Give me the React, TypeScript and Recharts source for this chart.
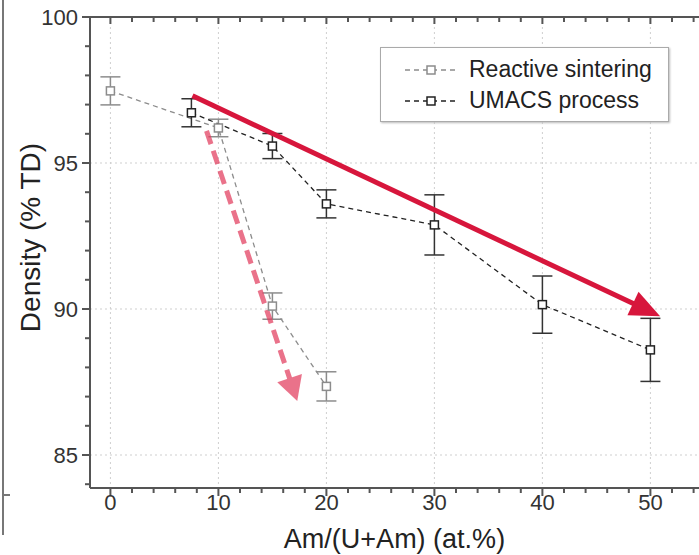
import { CartesianGrid, ErrorBar, Label, Legend, Line, LineChart, ReferenceLine, XAxis, YAxis } from 'recharts';

// Reactive sintering (grey)
const reactiveX = [0, 10, 15, 20];
const reactiveDensity = [97.47, 96.2, 90.1, 87.35];
const reactiveError = [0.48, 0.3, 0.45, 0.5];

// UMACS process (black)
const umacsX = [7.5, 15, 20, 30, 40, 50];
const umacsDensity = [96.72, 95.58, 93.6, 92.88, 90.15, 88.6];
const umacsError = [0.48, 0.43, 0.48, 1.03, 0.98, 1.08];

const xMajor = [0, 10, 20, 30, 40, 50];
const yMajor = [85, 90, 95, 100];
const xTicks = [0, 2, 4, 6, 8, 10, 12, 14, 16, 18, 20, 22, 24, 26, 28, 30, 32, 34, 36, 38, 40, 42, 44, 46, 48, 50, 52, 54];
const yTicks = [84, 85, 86, 87, 88, 89, 90, 91, 92, 93, 94, 95, 96, 97, 98, 99, 100];

// red trend arrows drawn over the plot (start, tip)
const solidArrow = [
  { x: 7.6, y: 97.3 },
  { x: 50.9, y: 89.75 },
];
const dashedArrow = [
  { x: 8.9, y: 96.1 },
  { x: 17.3, y: 86.85 },
];

const legendItems = [
  { name: 'Reactive sintering', color: '#8c8c8c' },
  { name: 'UMACS process', color: '#222222' },
];

const reactiveData = reactiveX.map((x, i) => ({ x, y: reactiveDensity[i], err: reactiveError[i] }));
const umacsData = umacsX.map((x, i) => ({ x, y: umacsDensity[i], err: umacsError[i] }));

const AXIS = '#555';
const TEXT = '#333';

function BottomTick({ x, y, payload }: any) {
  const major = xMajor.includes(payload.value);
  return (
    <g>
      <line x1={x} y1={y} x2={x} y2={y + (major ? 8 : 5)} stroke={AXIS} strokeWidth={2} />
      {major && (
        <text x={x} y={y + 22} textAnchor="middle" fontSize={22} fill={TEXT}>
          {payload.value}
        </text>
      )}
    </g>
  );
}

function TopTick({ x, y, payload }: any) {
  const major = xMajor.includes(payload.value);
  return <line x1={x} y1={y} x2={x} y2={y + (major ? 7 : 5)} stroke={AXIS} strokeWidth={2} />;
}

function LeftTick({ x, y, payload }: any) {
  const major = yMajor.includes(payload.value);
  return (
    <g>
      <line x1={x} y1={y} x2={x - (major ? 8 : 5)} y2={y} stroke={AXIS} strokeWidth={2} />
      {major && (
        <text x={x - 12} y={y} dy="0.36em" textAnchor="end" fontSize={22} fill={TEXT}>
          {payload.value}
        </text>
      )}
    </g>
  );
}

function YTitle({ viewBox }: any) {
  const cx = viewBox.x + 30;
  const cy = viewBox.y + viewBox.height / 2 - 15;
  return (
    <text x={cx} y={cy} transform={`rotate(-90 ${cx} ${cy})`} textAnchor="middle" dominantBaseline="central" fontSize={28} fill="#222">
      Density (% TD)
    </text>
  );
}

function SquareDot({ cx, cy, stroke }: any) {
  if (cx == null || cy == null) return null;
  return <rect x={cx - 4} y={cy - 4} width={8} height={8} fill="#fff" stroke={stroke} strokeWidth={1.5} />;
}

function arrowShape(color: string, head: number, half: number, dash?: string, opacity = 1) {
  return (p: any) => {
    const { x1, y1, x2, y2 } = p;
    const dx = x2 - x1;
    const dy = y2 - y1;
    const len = Math.hypot(dx, dy) || 1;
    const ux = dx / len;
    const uy = dy / len;
    const bx = x2 - ux * head;
    const by = y2 - uy * head;
    const pts = `${x2},${y2} ${bx - uy * half},${by + ux * half} ${bx + uy * half},${by - ux * half}`;
    return (
      <g opacity={opacity}>
        <line x1={x1} y1={y1} x2={bx + ux * 2} y2={by + uy * 2} stroke={color} strokeWidth={5} strokeDasharray={dash} />
        <polygon points={pts} fill={color} />
      </g>
    );
  };
}

function LegendBox() {
  return (
    <div
      style={{
        border: '1px solid #aaa',
        boxShadow: '1px 1px 2px #bbb',
        background: '#fff',
        padding: '6px 0 5px 22px',
        fontSize: 23,
        color: '#222',
        lineHeight: '31px',
      }}
    >
      {legendItems.map((it) => (
        <div key={it.name} style={{ display: 'flex', alignItems: 'center' }}>
          <svg width={60} height={20} style={{ marginRight: 6 }}>
            <line x1={2} y1={10} x2={54} y2={10} stroke={it.color} strokeWidth={1.5} strokeDasharray="5 4" />
            <rect x={24} y={6} width={8} height={8} fill="#fff" stroke={it.color} strokeWidth={1.5} />
          </svg>
          <span>{it.name}</span>
        </div>
      ))}
    </div>
  );
}

export default function App() {
  return (
    <div style={{ position: 'absolute', left: 0, top: 0, width: 699, height: 555, background: '#fff', fontFamily: '"Liberation Sans", Arial, sans-serif' }}>
      <div style={{ position: 'absolute', left: 2, top: 0, width: 2, height: 535, background: '#777' }} />
      <div style={{ position: 'absolute', left: 2, top: 494, width: 8, height: 2, background: '#777' }} />
      <LineChart width={699} height={555} margin={{ top: 16, right: 0, bottom: 0, left: 0 }}>
        <CartesianGrid stroke="#cfcfcf" strokeDasharray="2 3" horizontalValues={yMajor} verticalValues={xMajor} />
        <XAxis
          dataKey="x"
          type="number"
          domain={[-1.89, 54.5]}
          allowDataOverflow
          ticks={xTicks}
          interval={0}
          height={67}
          tickSize={0}
          tickMargin={0}
          tickLine={false}
          tick={<BottomTick />}
          axisLine={{ stroke: AXIS, strokeWidth: 2 }}
        >
          <Label value="Am/(U+Am) (at.%)" position="insideBottom" offset={7} fontSize={27} fill="#222" />
        </XAxis>
        <XAxis
          xAxisId="top"
          orientation="top"
          dataKey="x"
          type="number"
          domain={[-1.89, 54.5]}
          allowDataOverflow
          ticks={xTicks}
          interval={0}
          height={1}
          tickSize={0}
          tickMargin={0}
          tickLine={false}
          tick={<TopTick />}
          axisLine={{ stroke: AXIS, strokeWidth: 2 }}
        />
        <YAxis
          type="number"
          domain={[83.87, 100]}
          allowDataOverflow
          ticks={yTicks}
          interval={0}
          width={90}
          tickSize={0}
          tickMargin={0}
          tickLine={false}
          tick={<LeftTick />}
          axisLine={{ stroke: AXIS, strokeWidth: 2 }}
        >
          <Label content={<YTitle />} />
        </YAxis>
        <Legend
          layout="horizontal"
          verticalAlign="middle"
          align="center"
          content={<LegendBox />}
          wrapperStyle={{ left: 380, top: 47, width: 289, height: 'auto' }}
        />
        <Line
          data={reactiveData}
          dataKey="y"
          name="Reactive sintering"
          stroke="#8c8c8c"
          strokeWidth={1.3}
          strokeDasharray="5 4"
          dot={<SquareDot stroke="#8c8c8c" />}
          activeDot={false}
          isAnimationActive={false}
        >
          <ErrorBar dataKey="err" direction="y" width={10} stroke="#8c8c8c" strokeWidth={1.5} />
        </Line>
        <Line
          data={umacsData}
          dataKey="y"
          name="UMACS process"
          stroke="#222"
          strokeWidth={1.3}
          strokeDasharray="5 4"
          dot={<SquareDot stroke="#222" />}
          activeDot={false}
          isAnimationActive={false}
        >
          <ErrorBar dataKey="err" direction="y" width={10} stroke="#333" strokeWidth={1.5} />
        </Line>
        <ReferenceLine segment={dashedArrow} shape={arrowShape('#e23d5e', 24, 13, '14 7', 0.72)} />
        <ReferenceLine segment={solidArrow} shape={arrowShape('#d7163c', 30, 13)} />
      </LineChart>
    </div>
  );
}
